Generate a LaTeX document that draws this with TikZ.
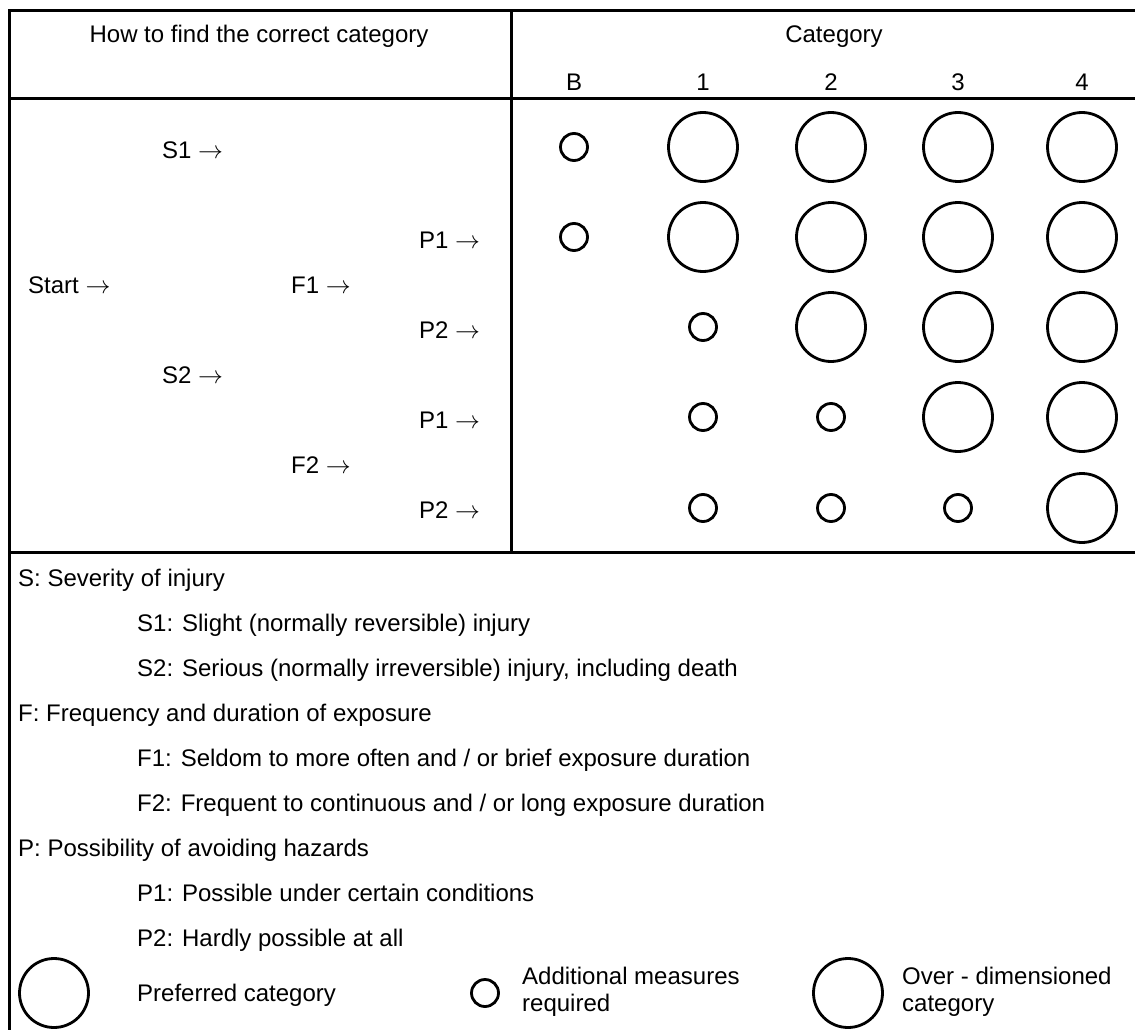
\documentclass[tikz,border=0pt]{standalone}
\usepackage{fontspec}
\setmainfont{Liberation Sans}
\newcommand{\rarr}{\ensuremath{\rightarrow}}
\begin{document}
\begin{tikzpicture}[x=1pt,y=-1pt,
  rule/.style={line width=3pt},
  txt/.style={inner sep=0pt, anchor=base west, font=\fontsize{24}{27}\selectfont},
  ctxt/.style={inner sep=0pt, anchor=base, font=\fontsize{24}{27}\selectfont},
  two/.style={inner sep=0pt, anchor=base west, align=left, font=\fontsize{24}{27}\selectfont},
  bigc/.style={draw, circle, line width=2.8pt, minimum size=69pt, inner sep=0pt},
  smallc/.style={draw, circle, line width=2.8pt, minimum size=27pt, inner sep=0pt}]
\useasboundingbox (0,0) rectangle (1135,1030);
% table rules
\draw[rule] (9,1045) -- (9,11) -- (1145,11);
\draw[rule] (9,99) -- (1145,99);
\draw[rule] (9,552) -- (1145,552);
\draw[rule] (511,11) -- (511,552);
% header
\node[ctxt] (hhow) at (259,43) {How to find the correct category};
\node[ctxt] (hcat) at (834,43) {Category};
\node[ctxt] (hB) at (574,91) {B};
\node[ctxt] (h1) at (703,91) {1};
\node[ctxt] (h2) at (831,91) {2};
\node[ctxt] (h3) at (958,91) {3};
\node[ctxt] (h4) at (1082,91) {4};
% decision labels
\node[txt] (s1) at (162,158) {S1 \rarr};
\node[txt] (p1a) at (419,248) {P1 \rarr};
\node[txt] (start) at (28,293) {Start \rarr};
\node[txt] (f1) at (291,293) {F1 \rarr};
\node[txt] (p2a) at (419,338) {P2 \rarr};
\node[txt] (s2) at (162,383) {S2 \rarr};
\node[txt] (p1b) at (419,428) {P1 \rarr};
\node[txt] (f2) at (291,473) {F2 \rarr};
\node[txt] (p2b) at (419,518) {P2 \rarr};
% row 1
\node[smallc] (r1b) at (574,147) {};
\node[bigc] (r1c1) at (703,147) {};
\node[bigc] (r1c2) at (831,147) {};
\node[bigc] (r1c3) at (958,147) {};
\node[bigc] (r1c4) at (1082,147) {};
% row 2
\node[smallc] (r2b) at (574,237) {};
\node[bigc] (r2c1) at (703,237) {};
\node[bigc] (r2c2) at (831,237) {};
\node[bigc] (r2c3) at (958,237) {};
\node[bigc] (r2c4) at (1082,237) {};
% row 3
\node[smallc] (r3c1) at (703,327) {};
\node[bigc] (r3c2) at (831,327) {};
\node[bigc] (r3c3) at (958,327) {};
\node[bigc] (r3c4) at (1082,327) {};
% row 4
\node[smallc] (r4c1) at (703,417) {};
\node[smallc] (r4c2) at (831,417) {};
\node[bigc] (r4c3) at (958,417) {};
\node[bigc] (r4c4) at (1082,417) {};
% row 5
\node[smallc] (r5c1) at (703,508) {};
\node[smallc] (r5c2) at (831,508) {};
\node[smallc] (r5c3) at (958,508) {};
\node[bigc] (r5c4) at (1082,508) {};
% explanations
\node[txt] (ls) at (18,586) {S: Severity of injury};
\node[txt] (ls1) at (137,631) {S1: Slight (normally reversible) injury};
\node[txt] (ls2) at (137,676) {S2: Serious (normally irreversible) injury, including death};
\node[txt] (lf) at (18,721) {F: Frequency and duration of exposure};
\node[txt] (lf1) at (137,766) {F1: Seldom to more often and / or brief exposure duration};
\node[txt] (lf2) at (137,811) {F2: Frequent to continuous and / or long exposure duration};
\node[txt] (lp) at (18,856) {P: Possibility of avoiding hazards};
\node[txt] (lp1) at (137,901) {P1: Possible under certain conditions};
\node[txt] (lp2) at (137,946) {P2: Hardly possible at all};
% legend
\node[bigc] (legpref) at (54,993) {};
\node[txt] (tpref) at (137,1001) {Preferred category};
\node[smallc] (legadd) at (485,993) {};
\node[two] (tadd) at (522,1011) {Additional measures\\required};
\node[bigc] (legover) at (848,993) {};
\node[two] (tover) at (902,1011) {Over - dimensioned\\category};
\end{tikzpicture}
\end{document}
